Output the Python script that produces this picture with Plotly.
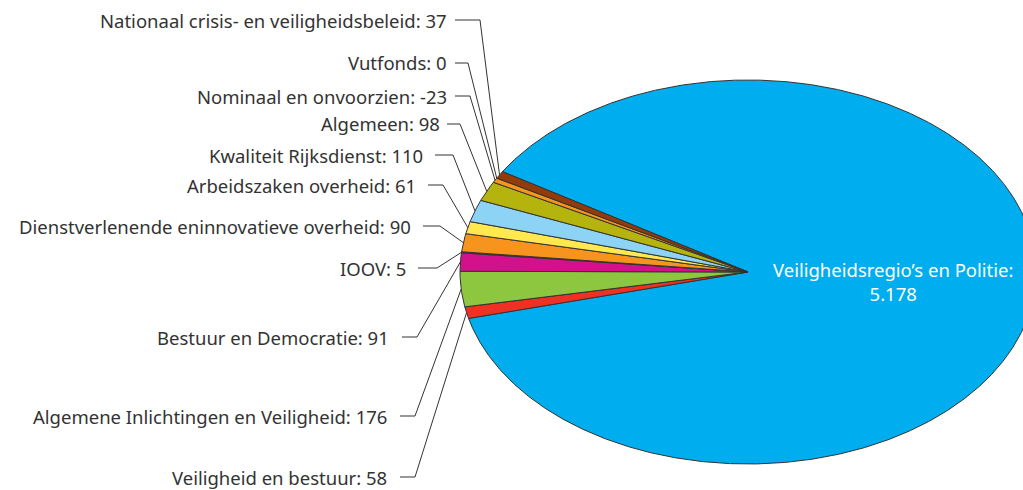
import numpy as np
import plotly.graph_objects as go

# slices in clockwise order, starting with the large one
names = [
    "Veiligheidsregio’s en Politie",
    "Veiligheid en bestuur",
    "Algemene Inlichtingen en Veiligheid",
    "Bestuur en Democratie",
    "IOOV",
    "Dienstverlenende eninnovatieve overheid",
    "Arbeidszaken overheid",
    "Kwaliteit Rijksdienst",
    "Algemeen",
    "Nominaal en onvoorzien",
    "Vutfonds",
    "Nationaal crisis- en veiligheidsbeleid",
]
values = [5178, 58, 176, 91, 5, 90, 61, 110, 98, -23, 0, 37]
colors = ["#00aeef", "#ee3124", "#8dc63f", "#d4118c", "#6a2c8c", "#f7941d",
          "#ffe94f", "#8dd3f5", "#b5b30d", "#f7941d", "#ffffff", "#923c0c"]

# layout of the outside labels (pixels): text right end, y, leader start, leader end
label_pos = {
    "Nationaal crisis- en veiligheidsbeleid": (449, 20, 455, 480),
    "Vutfonds": (449, 63, 455, 468),
    "Nominaal en onvoorzien": (449, 96, 455, 470),
    "Algemeen": (442, 124, 447, 460),
    "Kwaliteit Rijksdienst": (425, 155, 435, 453),
    "Arbeidszaken overheid": (418, 185, 428, 443),
    "Dienstverlenende eninnovatieve overheid": (413, 226, 423, 440),
    "IOOV": (408, 268, 418, 437),
    "Bestuur en Democratie": (391, 337, 402, 417),
    "Algemene Inlichtingen en Veiligheid": (389, 416, 400, 415),
    "Veiligheid en bestuur": (389, 477, 400, 415),
}

W, H = 1023, 490
CX, CY, RX, RY = 748, 272, 288, 192
START = 148.5  # degrees, slices run clockwise


def px_x(p):
    return (p - CX) / RX


def px_y(p):
    return (CY - p) / RY


def fmt(v):
    return f"{v:,}".replace(",", ".")


sizes = np.abs(np.array(values, dtype=float))  # negative value drawn by its size, like Excel
angles = sizes / sizes.sum() * 360

fig = go.Figure()
a0 = START
mids = []
for name, val, ang, col in zip(names, values, angles, colors):
    a1 = a0 - ang
    mids.append((a0 + a1) / 2)
    if ang > 0:
        t = np.radians(np.linspace(a0, a1, max(int(ang * 4), 3)))
        xs = np.concatenate([[0], np.cos(t), [0]])
        ys = np.concatenate([[0], np.sin(t), [0]])
        fig.add_trace(go.Scatter(
            x=xs, y=ys, mode="lines", fill="toself", fillcolor=col,
            line=dict(color="#333333", width=1), hoverinfo="text",
            text=f"{name}: {fmt(val)}", showlegend=False,
        ))
    a0 = a1

annotations = []
for name, val, mid in zip(names, values, mids):
    if name not in label_pos:
        continue
    xe, y, l0, l1 = label_pos[name]
    m = np.radians(mid)
    fig.add_trace(go.Scatter(
        x=[px_x(l0), px_x(l1), np.cos(m)],
        y=[px_y(y), px_y(y), np.sin(m)],
        mode="lines", line=dict(color="#333333", width=1),
        hoverinfo="skip", showlegend=False,
    ))
    annotations.append(dict(
        x=xe / W, y=1 - y / H, xref="paper", yref="paper",
        xanchor="right", yanchor="middle", showarrow=False,
        text=f"{name}: {fmt(val)}", font=dict(size=18.5, color="#333333"),
    ))

# label inside the big slice
annotations.append(dict(
    x=893 / W, y=1 - 281 / H, xref="paper", yref="paper",
    xanchor="center", yanchor="middle", showarrow=False,
    text=f"{names[0]}:<br>{fmt(values[0])}", font=dict(size=18.5, color="#ffffff"),
))

fig.update_layout(
    width=W, height=H, autosize=False,
    margin=dict(l=0, r=0, t=0, b=0),
    paper_bgcolor="white", plot_bgcolor="white",
    font=dict(family="Noto Sans"),
    xaxis=dict(range=[px_x(0), px_x(W)], visible=False, fixedrange=True),
    yaxis=dict(range=[px_y(H), px_y(0)], visible=False, fixedrange=True),
    annotations=annotations,
)
fig.write_html("out.html", config={"displayModeBar": False},
               post_script="document.body.style.margin='0';")
